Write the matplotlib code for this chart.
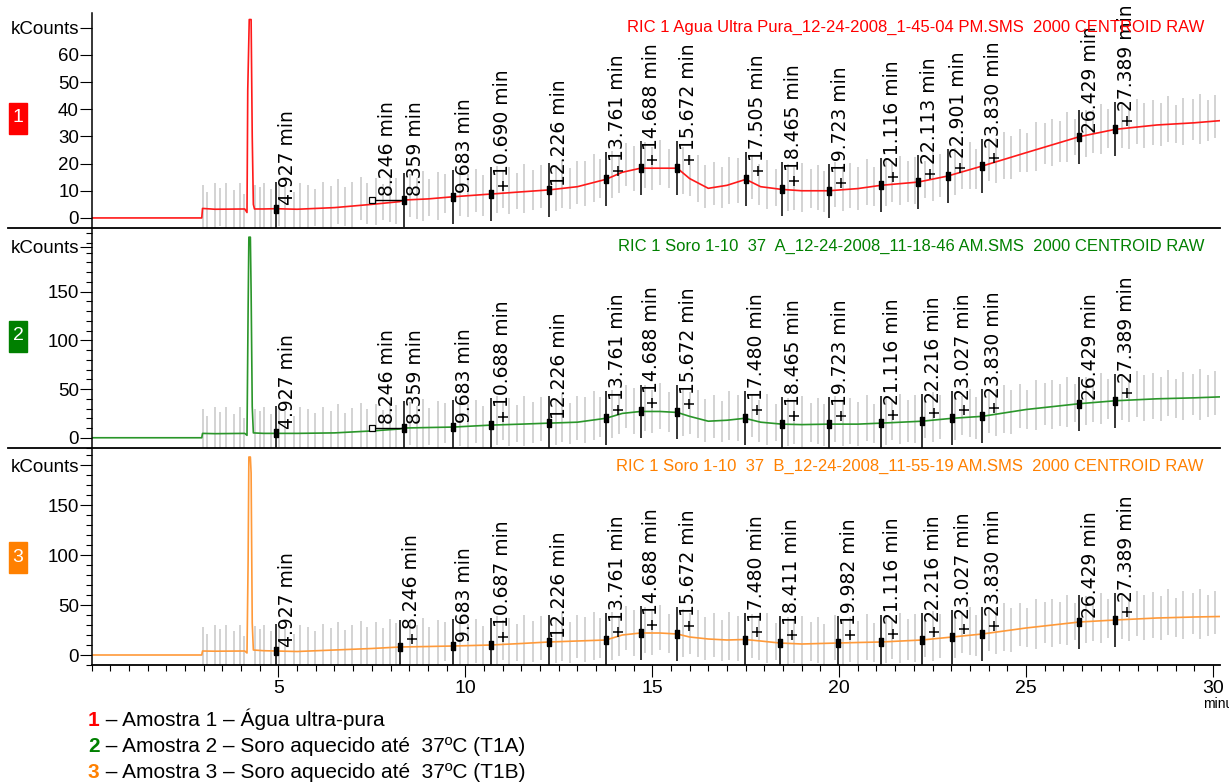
import numpy as np
import matplotlib
matplotlib.use('Agg')
import matplotlib.pyplot as plt
from matplotlib.lines import Line2D
from matplotlib.patches import Rectangle

# traces (time in min, kCounts)
red_t = [0, 2.95, 2.97, 3.3, 4.1, 4.16, 4.18, 4.22, 4.27, 4.30, 4.33, 4.36, 4.6, 4.927, 5.5, 6.5, 7.5,
         8.246, 8.359, 9.0, 9.683, 10.69, 11.5, 12.226, 13.0, 13.761, 14.2, 14.688, 15.2, 15.672, 16.0,
         16.5, 17.0, 17.505, 17.9, 18.465, 19.0, 19.723, 20.5, 21.116, 22.113, 22.901, 23.83, 25.0,
         26.429, 27.389, 28.5, 29.5, 30.2]
red_v = [0, 0, 3.5, 3.2, 3.3, 2.0, 47, 73, 73, 30, 5, 3.3, 3.3, 3.4, 3.2, 3.8, 5.0,
         6.0, 6.6, 7.0, 7.8, 8.8, 9.6, 10.3, 11.5, 14.2, 16.8, 18.3, 18.3, 18.3, 14.5,
         10.9, 12.0, 14.2, 11.5, 10.5, 10.0, 10.0, 10.8, 12.0, 13.2, 15.4, 19.1, 24.0,
         29.9, 32.6, 34.2, 35.0, 35.8]

green_t = [0, 2.95, 2.97, 3.3, 4.1, 4.16, 4.19, 4.21, 4.25, 4.27, 4.30, 4.33, 4.6, 4.927, 5.5, 6.5, 7.5,
           8.246, 8.359, 9.0, 9.683, 10.688, 11.5, 12.226, 13.0, 13.761, 14.2, 14.688, 15.2, 15.672, 16.0,
           16.5, 17.0, 17.48, 17.9, 18.465, 19.0, 19.723, 20.5, 21.116, 22.216, 23.027, 23.83, 25.0,
           26.429, 27.389, 28.5, 29.5, 30.2]
green_v = [0, 0, 4.5, 4.2, 4.5, 2.5, 133, 206, 206, 150, 32, 5, 4.5, 4.5, 4.5, 5.0, 7.0,
           9.0, 10.0, 10.5, 11.0, 13.0, 14.0, 15.0, 16.0, 20.0, 25.0, 27.0, 27.0, 26.0, 22.0,
           17.0, 18.0, 20.0, 16.0, 14.0, 13.5, 14.0, 14.0, 15.0, 17.0, 20.0, 22.0, 29.0,
           35.0, 38.0, 40.0, 41.0, 42.0]

orange_t = [0, 2.95, 2.97, 3.3, 4.1, 4.16, 4.19, 4.21, 4.25, 4.27, 4.30, 4.33, 4.6, 4.927, 5.5, 6.5, 7.5,
            8.246, 9.0, 9.683, 10.687, 11.5, 12.226, 13.0, 13.761, 14.2, 14.688, 15.2, 15.672, 16.0,
            16.5, 17.0, 17.48, 17.9, 18.411, 19.0, 19.982, 20.5, 21.116, 22.216, 23.027, 23.83, 25.0,
            26.429, 27.389, 28.5, 29.5, 30.2]
orange_v = [0, 0, 4.0, 3.8, 4.0, 2.0, 95, 198, 198, 182, 32, 5, 4.3, 4.0, 3.5, 5.0, 6.5,
            8.0, 8.5, 9.0, 10.0, 11.5, 13.0, 14.0, 15.0, 20.0, 22.0, 22.0, 21.0, 18.0,
            16.0, 15.0, 15.5, 14.0, 12.0, 11.0, 12.0, 12.5, 13.0, 15.0, 18.0, 21.0, 27.0,
            33.0, 35.0, 37.0, 38.0, 38.5]

# labelled peaks, whether an apex "+" is shown, and shoulder marks (peak -> bracket start)
peaks_1 = [4.927, 8.246, 8.359, 9.683, 10.690, 12.226, 13.761, 14.688, 15.672, 17.505, 18.465,
           19.723, 21.116, 22.113, 22.901, 23.830, 26.429, 27.389]
plus_1 = [0, 0, 0, 0, 1, 0, 1, 1, 1, 1, 1, 1, 1, 1, 1, 1, 0, 1]
shoulder_1 = {8.246: 7.5}
peaks_2 = [4.927, 8.246, 8.359, 9.683, 10.688, 12.226, 13.761, 14.688, 15.672, 17.480, 18.465,
           19.723, 21.116, 22.216, 23.027, 23.830, 26.429, 27.389]
plus_2 = [0, 0, 0, 0, 1, 0, 1, 1, 1, 1, 1, 1, 1, 1, 1, 1, 0, 1]
shoulder_2 = {8.246: 7.5}
peaks_3 = [4.927, 8.246, 9.683, 10.687, 12.226, 13.761, 14.688, 15.672, 17.480, 18.411, 19.982,
           21.116, 22.216, 23.027, 23.830, 26.429, 27.389]
plus_3 = [0, 1, 0, 1, 0, 1, 1, 1, 1, 1, 1, 1, 1, 1, 1, 0, 1]
shoulder_3 = {}

# gray scan noise: (time, extent above trace, extent below trace) in % of panel height
gray_noise = [
    (2.98, 11, 9), (3.08, 8, 10), (3.3, 12, 9), (3.45, 10, 8), (3.6, 12, 10), (3.82, 9, 9),
    (3.98, 12, 10), (4.08, 7, 9), (4.38, 11, 9), (4.5, 10, 10), (4.62, 12, 9), (4.8, 9, 10),
    (5.02, 12, 8), (5.18, 10, 9), (5.42, 8, 10), (5.58, 12, 9), (5.8, 11, 10), (5.98, 9, 8),
    (6.2, 12, 9), (6.42, 10, 10), (6.6, 13, 8), (6.78, 9, 9), (6.98, 11, 10), (7.22, 13, 7),
    (7.38, 10, 9), (7.62, 12, 10), (7.8, 9, 8), (7.98, 13, 9), (8.14, 11, 10), (8.52, 12, 8),
    (8.7, 10, 9), (8.86, 13, 10), (9.04, 9, 8), (9.28, 12, 10), (9.46, 11, 7), (9.86, 13, 9),
    (10.06, 10, 10), (10.28, 12, 8), (10.48, 9, 10), (10.84, 13, 9), (11.0, 11, 7), (11.18, 12, 10),
    (11.38, 9, 8), (11.58, 13, 10), (11.82, 10, 9), (12.02, 12, 8), (12.42, 11, 10), (12.6, 13, 9),
    (12.8, 9, 10), (13.0, 12, 8), (13.2, 11, 10), (13.44, 13, 9), (13.6, 10, 8), (13.92, 12, 10),
    (14.1, 9, 9), (14.3, 13, 7), (14.5, 11, 10), (14.82, 12, 9), (15.0, 10, 10), (15.2, 13, 8),
    (15.44, 9, 9), (15.82, 12, 10), (16.0, 11, 8), (16.22, 13, 9), (16.42, 10, 10), (16.64, 12, 8),
    (16.86, 9, 10), (17.06, 13, 9), (17.3, 11, 10), (17.66, 12, 8), (17.86, 10, 9), (18.06, 13, 10),
    (18.3, 9, 8), (18.62, 12, 10), (18.8, 11, 9), (19.0, 13, 10), (19.24, 10, 8), (19.44, 12, 9),
    (19.6, 9, 10), (19.9, 13, 8), (20.1, 11, 10), (20.3, 12, 9), (20.5, 10, 10), (20.74, 13, 8),
    (20.94, 9, 9), (21.26, 12, 10), (21.42, 11, 8), (21.64, 13, 10), (21.84, 10, 9), (22.02, 12, 10),
    (22.3, 9, 8), (22.5, 13, 10), (22.7, 11, 9), (23.1, 12, 10), (23.3, 10, 8), (23.5, 13, 9),
    (23.66, 9, 10), (24.0, 12, 8), (24.2, 11, 10), (24.4, 13, 9), (24.6, 10, 10), (24.84, 12, 8),
    (25.04, 9, 9), (25.26, 13, 10), (25.5, 11, 8), (25.7, 12, 10), (25.9, 10, 9), (26.1, 13, 10),
    (26.3, 9, 8), (26.6, 12, 10), (26.8, 11, 9), (27.0, 13, 10), (27.2, 10, 8), (27.56, 12, 9),
    (27.76, 9, 10), (27.96, 13, 8), (28.16, 11, 10), (28.4, 12, 9), (28.6, 10, 10), (28.8, 13, 8),
    (29.0, 9, 9), (29.2, 12, 10), (29.46, 11, 8), (29.66, 13, 10), (29.86, 10, 9), (30.06, 12, 8),
    (30.26, 11, 10),
]

titles = ['RIC 1 Agua Ultra Pura_12-24-2008_1-45-04 PM.SMS  2000 CENTROID RAW',
          'RIC 1 Soro 1-10  37  A_12-24-2008_11-18-46 AM.SMS  2000 CENTROID RAW',
          'RIC 1 Soro 1-10  37  B_12-24-2008_11-55-19 AM.SMS  2000 CENTROID RAW']
legend_lines = [' – Amostra 1 – Água ultra-pura',
                ' – Amostra 2 – Soro aquecido até  37ºC (T1A)',
                ' – Amostra 3 – Soro aquecido até  37ºC (T1B)']

RED, GREEN, ORANGE = '#ff0000', '#008000', '#ff8000'
TRACE = ['#ff1a1a', '#2a962a', '#ff9a3a']

plt.rcParams['font.family'] = ['Liberation Sans', 'DejaVu Sans']

W, H = 1229, 784
fig = plt.figure(figsize=(W / 100, H / 100), dpi=100)


def fx(px):
    return px / W


def fy(py):
    return 1 - py / H


x0, ppm = 91.5, 37.38  # axis origin px, px per minute
xmax = 30.2
left, width = fx(x0), xmax * ppm / W

ax1 = fig.add_axes([left, fy(228), width, (228 - 13) / H])
ax2 = fig.add_axes([left, fy(447.5), width, (447.5 - 228) / H])
ax3 = fig.add_axes([left, fy(665), width, (665 - 447.5) / H])


def draw_panel(ax, t, v, color, peaks, plus, shoulders, ylim, yticks, kc):
    ax.set_xlim(0, xmax)
    ax.set_ylim(*ylim)
    span = ylim[1] - ylim[0]
    k = span / (ax.get_position().height * H)  # data units per pixel

    gx = np.array([g[0] for g in gray_noise])
    base = np.interp(gx, t, v)
    hi = base + np.array([g[1] for g in gray_noise]) / 100 * span
    lo = base - np.array([g[2] for g in gray_noise]) / 100 * span
    ax.vlines(gx, lo, hi, color='#c8c8c8', lw=1.1, zorder=1)
    ax.plot(t, v, color=color, lw=1.2, zorder=2)

    py = np.interp(peaks, t, v)
    bar = [(-0.8, -2), (0.8, -2), (0.8, 2), (-0.8, 2), (-0.8, -2)]
    for i, (p, y, pl) in enumerate(zip(peaks, py, plus)):
        xl = p
        if p in shoulders:
            xs = shoulders[p]
            ys = np.interp(xs, t, v)
            ax.plot([xs, peaks[i + 1]], [py[i + 1], py[i + 1]], color='k', lw=1.0, zorder=3)
            ax.plot(xs, py[i + 1], marker='s', ms=4, mfc='white', mec='k', mew=0.9, zorder=4)
            xl, y = xs + 0.12, max(ys, py[i + 1])
        else:
            ax.vlines(p, y - 27 * k, y + 27 * k, color='k', lw=1.1, zorder=3)
            ax.plot(p, y, marker=bar, ms=6, color='k', zorder=4)
        if pl:
            ax.plot(p + 0.32, y + 8 * k, marker='+', ms=6.5, mew=1.1, color='k', zorder=4)
        ax.text(xl + 0.05, y + (18 if pl else 4) * k, f'{p:.3f} min', rotation=90,
                ha='left', va='bottom', fontsize=13.5, family='DejaVu Sans', zorder=5)

    ax.set_yticks(yticks + [kc])
    ax.set_yticklabels([str(y) for y in yticks] + ['kCounts'])
    ax.tick_params(axis='y', direction='out', length=8.5, width=0.8, labelsize=13.5, pad=0.5)
    ax.tick_params(axis='y', which='minor', direction='out', length=4.3, width=0.8)
    for s in ['top', 'right', 'bottom']:
        ax.spines[s].set_visible(False)
    ax.spines['left'].set_linewidth(1.1)
    ax.set_xticks([])


draw_panel(ax1, red_t, red_v, TRACE[0], peaks_1, plus_1, shoulder_1,
           (-3.7, 75.4), [0, 10, 20, 30, 40, 50, 60], 70)
draw_panel(ax2, green_t, green_v, TRACE[1], peaks_2, plus_2, shoulder_2,
           (-9.7, 215.4), [0, 50, 100, 150], 196)
draw_panel(ax3, orange_t, orange_v, TRACE[2], peaks_3, plus_3, shoulder_3,
           (-10, 207.5), [0, 50, 100, 150], 190)
ax2.set_yticks(np.arange(-10, 211, 10), minor=True)
ax3.set_yticks(np.arange(-10, 201, 10), minor=True)

# bottom time axis
ax3.spines['bottom'].set_visible(True)
ax3.spines['bottom'].set_linewidth(1.3)
ax3.set_xticks([5, 10, 15, 20, 25, 30])
ax3.set_xticks(np.arange(0, 30.01, 0.5), minor=True)
ax3.tick_params(axis='x', direction='out', length=8.5, width=0.8, labelsize=14, pad=2)
ax3.tick_params(axis='x', which='minor', direction='out', length=4.3, width=0.8)
fig.text(fx(1203), fy(704), 'minutes', ha='left', va='center', fontsize=10)

# panel separators
for yy in [228, 447.5]:
    fig.add_artist(Line2D([fx(8), fx(x0 + xmax * ppm)], [fy(yy), fy(yy)], color='k', lw=1.3))

# titles and panel badges
for title, col, ty in zip(titles, [RED, GREEN, ORANGE], [27, 246, 466]):
    fig.text(fx(1204), fy(ty), title, color=col, ha='right', va='center', fontsize=12)
for num, col, by in zip(['1', '2', '3'], [RED, GREEN, ORANGE], [118, 336, 557]):
    fig.add_artist(Rectangle((fx(9), fy(by + 15.5)), 18 / W, 31 / H, fc=col, ec=col, lw=1))
    fig.text(fx(18), fy(by), num, color='white', ha='center', va='center', fontsize=14)

# legend lines
for num, line, col, ly in zip(['1', '2', '3'], legend_lines, [RED, GREEN, ORANGE], [720, 746, 772]):
    d = fig.text(fx(88), fy(ly), num, color=col, fontweight='bold', ha='left', va='center',
                 fontsize=15)
    ax3.annotate(line, xy=(1, 0), xycoords=d, ha='left', va='bottom', fontsize=15,
                 annotation_clip=False)

fig.savefig('out.png', dpi=100)
